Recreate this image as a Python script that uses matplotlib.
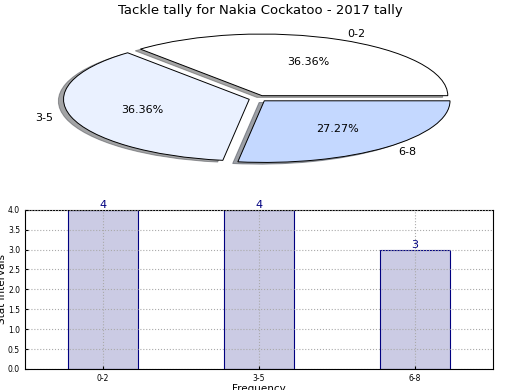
import matplotlib
matplotlib.use("Agg")
import matplotlib.pyplot as plt

labels = ["0-2", "3-5", "6-8"]
counts = [4, 4, 3]
pie_colors = ["#ffffff", "#eaf1ff", "#c4d8ff"]
explode = [0.05, 0.05, 0.05]

fig = plt.figure(figsize=(5.2, 3.9), dpi=100)

# pie on top (not equal aspect -> ellipse)
ax1 = fig.add_axes([0.05, 0.55, 0.893, 0.395])
ax1.pie(counts, labels=labels, colors=pie_colors, explode=explode,
        autopct="%.2f%%", startangle=0, shadow=True,
        wedgeprops={"edgecolor": "black", "linewidth": 0.7},
        textprops={"fontsize": 8})
ax1.set_aspect("auto")
fig.text(0.5, 0.972, "Tackle tally for Nakia Cockatoo - 2017 tally",
         ha="center", va="center", fontsize=9.5)

# bar chart below
ax2 = fig.add_axes([0.048, 0.054, 0.9, 0.408])
x = range(len(labels))
bars = ax2.bar(x, counts, width=0.45, color="#cbcbe4",
               edgecolor="navy", linewidth=0.8)
for b, v in zip(bars, counts):
    ax2.text(b.get_x() + b.get_width() / 2, v, str(v), ha="center",
             va="bottom", color="navy", fontsize=8)
ax2.set_xlim(-0.5, 2.5)
ax2.set_ylim(0, 4.0)
ax2.set_yticks([0.0, 0.5, 1.0, 1.5, 2.0, 2.5, 3.0, 3.5, 4.0])
ax2.set_xticks(list(x))
ax2.set_xticklabels(labels)
ax2.tick_params(labelsize=5.5, direction="in", length=2)
ax2.grid(True, linestyle=":", color="#aaaaaa")
ax2.set_axisbelow(False)
ax2.set_ylabel("Stat Intervals", fontsize=7.5, labelpad=1)
ax2.set_xlabel("Frequency", fontsize=7.5, labelpad=1)

fig.savefig("out.png", dpi=100)
